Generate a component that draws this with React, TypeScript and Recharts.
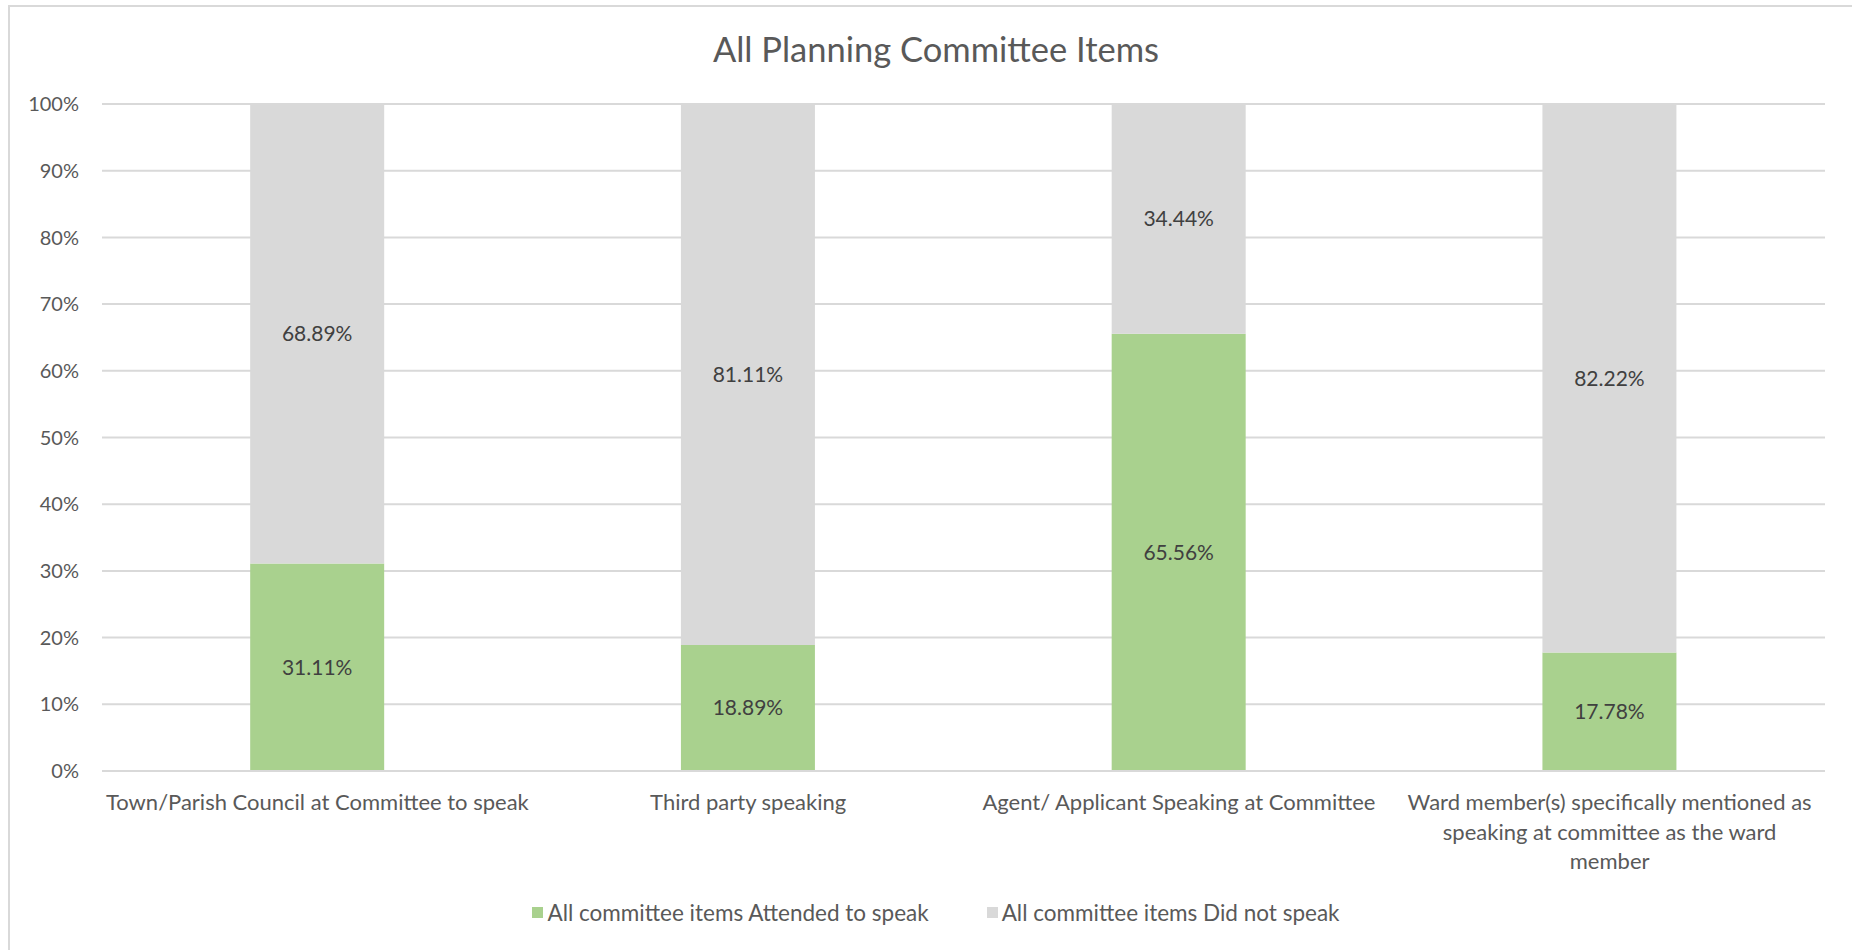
import React from 'react';
import { BarChart, Bar, XAxis, YAxis, CartesianGrid, LabelList } from 'recharts';

// line breaks follow the original chart's wrapping
const categories = [
  'Town/Parish Council at Committee to speak',
  'Third party speaking',
  'Agent/ Applicant Speaking at Committee',
  'Ward member(s) specifically mentioned as\nspeaking at committee as the ward\nmember',
];
const attended = [31.11, 18.89, 65.56, 17.78];
const didNotSpeak = [68.89, 81.11, 34.44, 82.22];
const yTicks = [0, 10, 20, 30, 40, 50, 60, 70, 80, 90, 100];

const seriesNames = ['All committee items Attended to speak', 'All committee items Did not speak'];
const GREEN = '#A9D18E';
const GREY = '#D9D9D9';
const FONT = 'Lato, "Open Sans", sans-serif';

const data = categories.map((name, i) => ({
  name,
  attended: attended[i],
  didNotSpeak: didNotSpeak[i],
}));

const pct = (v: any) => `${Number(v).toFixed(2)}%`;

const CategoryTick = (props: any) => {
  const { x, y, payload } = props;
  const lines = String(payload.value).split('\n');
  return (
    <text x={x} y={y + 39} textAnchor="middle" fill="#595959" fontSize={22} fontFamily={FONT}>
      {lines.map((l, i) => (
        <tspan key={i} x={x} dy={i === 0 ? 0 : 29.5}>
          {l}
        </tspan>
      ))}
    </text>
  );
};

export default function App() {
  return (
    <div
      style={{
        position: 'absolute',
        left: 8,
        top: 5,
        width: 1860,
        height: 960,
        border: '2px solid #D9D9D9',
        background: '#fff',
        fontFamily: FONT,
      }}
    >
      <div
        style={{
          position: 'absolute',
          top: 21,
          left: 0,
          width: 1852,
          textAlign: 'center',
          fontSize: 34.5,
          color: '#595959',
        }}
      >
        All Planning Committee Items
      </div>
      <BarChart
        width={1852}
        height={940}
        data={data}
        margin={{ top: 97, right: 37, bottom: 0, left: 0 }}
        barCategoryGap="34.4%"
      >
        <CartesianGrid vertical={false} stroke="#D9D9D9" strokeWidth={2} />
        <XAxis
          dataKey="name"
          interval={0}
          tickLine={false}
          tickSize={0}
          tickMargin={0}
          axisLine={{ stroke: '#D9D9D9', strokeWidth: 2 }}
          tick={<CategoryTick />}
          height={176}
        />
        <YAxis
          domain={[0, 100]}
          ticks={yTicks}
          tickFormatter={(v) => `${v}%`}
          tickLine={false}
          axisLine={false}
          width={92}
          tickMargin={17}
          tick={{ fill: '#595959', fontSize: 20, fontFamily: FONT }}
        />
        <Bar dataKey="attended" stackId="a" fill={GREEN} isAnimationActive={false}>
          <LabelList dataKey="attended" position="center" formatter={pct} fill="#404040" fontSize={21} fontFamily={FONT} />
        </Bar>
        <Bar dataKey="didNotSpeak" stackId="a" fill={GREY} isAnimationActive={false}>
          <LabelList dataKey="didNotSpeak" position="center" formatter={pct} fill="#404040" fontSize={21} fontFamily={FONT} />
        </Bar>
      </BarChart>
      <div
        style={{
          position: 'absolute',
          top: 892,
          left: 0,
          width: 1852,
          display: 'flex',
          justifyContent: 'center',
          gap: 58,
          fontSize: 22.5,
          color: '#595959',
        }}
      >
        {seriesNames.map((n, i) => (
          <div key={n} style={{ display: 'flex', alignItems: 'center' }}>
            <span
              style={{
                display: 'inline-block',
                width: 11,
                height: 11,
                background: i === 0 ? GREEN : GREY,
                marginRight: 4,
              }}
            />
            {n}
          </div>
        ))}
      </div>
    </div>
  );
}
